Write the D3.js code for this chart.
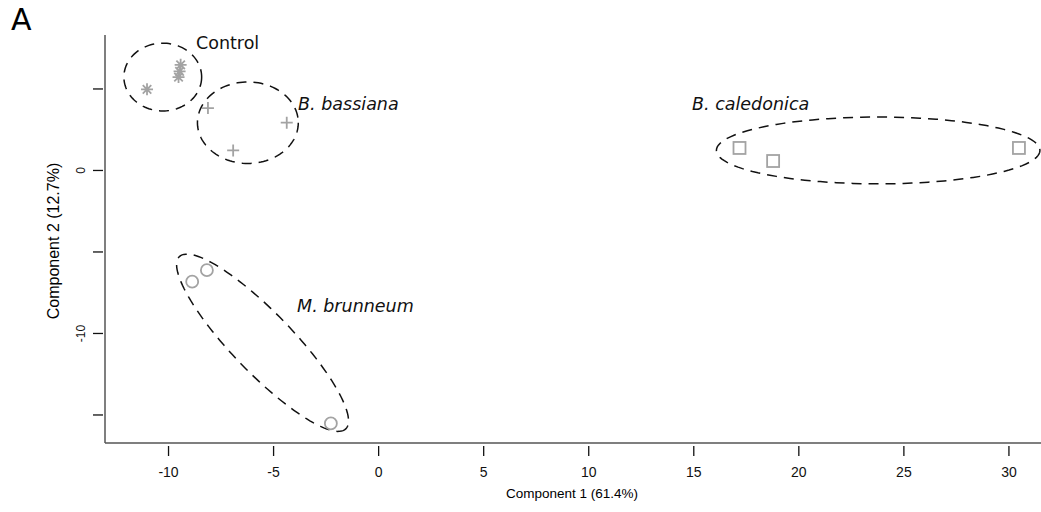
<!DOCTYPE html>
<html>
<head>
<meta charset="utf-8">
<script src="https://cdn.jsdelivr.net/npm/d3@7"></script>
<style>
  body { margin: 0; background: #fff; }
  svg { display: block; }
</style>
</head>
<body>
<svg id="chart"></svg>
<script>
// data (component 1, component 2)
const control = [[-11.0, 4.95], [-9.4, 6.45], [-9.45, 6.05], [-9.5, 5.7]];
const bassiana = [[-8.1, 3.8], [-6.9, 1.2], [-4.35, 2.9]];
const caledonica = [[17.2, 1.35], [18.8, 0.55], [30.5, 1.35]];
const brunneum = [[-8.85, -6.85], [-8.15, -6.15], [-2.25, -15.55]];

// group ellipses: centre x, centre y, half width (x units), half height (y units), angle
const ellipses = [
  { name: 'Control', cx: -10.25, cy: 5.7, rx: 1.85, ry: 2.08, angle: 0 },
  { name: 'B. bassiana', cx: -6.2, cy: 2.9, rx: 2.4, ry: 2.5, angle: 0 },
  { name: 'B. caledonica', cx: 23.8, cy: 1.2, rx: 7.7, ry: 2.05, angle: 0 },
  { name: 'M. brunneum', cx: -5.5, cy: -10.6, rx: 5.7, ry: 1.85, angle: 46 }
];

// label anchors (data units)
const labels = [
  { text: 'Control', x: -8.67, y: 7.42, italic: false },
  { text: 'B. bassiana', x: -3.81, y: 3.68, italic: true },
  { text: 'B. caledonica', x: 14.94, y: 3.68, italic: true },
  { text: 'M. brunneum', x: -3.86, y: -8.71, italic: true }
];

const xTicks = [-10, -5, 0, 5, 10, 15, 20, 25, 30];
const yTicks = [-15, -10, -5, 0, 5];
const yTickLabels = { '0': '0', '-10': '-10' };

const width = 1041;
const height = 512;
const margin = { left: 105, right: 0, top: 35, bottom: 69 };

const svg = d3.select('#chart')
  .attr('width', width)
  .attr('height', height);

const x = d3.scaleLinear().domain([-13, 31.55]).range([margin.left, width - margin.right]);
const y = d3.scaleLinear().domain([-16.75, 8.28]).range([height - margin.bottom, margin.top]);

const axisColor = '#555';
const pointColor = '#a3a3a3';
const axisFont = 'Liberation Sans, Arial, sans-serif';

// panel letter
svg.append('text')
  .attr('x', 11).attr('y', 30)
  .attr('font-family', 'DejaVu Sans, sans-serif')
  .attr('font-size', '30px')
  .text('A');

// axis lines (L shape)
svg.append('line')
  .attr('x1', x.range()[0]).attr('x2', x.range()[1])
  .attr('y1', y.range()[0]).attr('y2', y.range()[0])
  .attr('stroke', axisColor).attr('stroke-width', 1.5);
svg.append('line')
  .attr('x1', x.range()[0]).attr('x2', x.range()[0])
  .attr('y1', y.range()[0]).attr('y2', y.range()[1])
  .attr('stroke', axisColor).attr('stroke-width', 1.5);

// x axis
const xAxis = svg.append('g')
  .attr('transform', `translate(0,${y.range()[0] + 3})`)
  .call(d3.axisBottom(x).tickValues(xTicks).tickSize(10).tickFormat(d => d));
xAxis.select('.domain').remove();
xAxis.selectAll('line').attr('stroke', '#111').attr('stroke-width', 1.3);
xAxis.selectAll('text')
  .attr('y', 31).attr('dy', 0)
  .attr('font-family', axisFont)
  .attr('font-size', '14px')
  .attr('fill', '#111');

// y axis
const yAxis = svg.append('g')
  .attr('transform', `translate(${x.range()[0] - 2},0)`)
  .call(d3.axisLeft(y).tickValues(yTicks).tickSize(10).tickPadding(0)
    .tickFormat(d => yTickLabels[String(d)] || ''));
yAxis.select('.domain').remove();
yAxis.selectAll('line').attr('stroke', '#111').attr('stroke-width', 1.3);
yAxis.selectAll('text')
  .attr('font-family', axisFont)
  .attr('font-size', '12px')
  .attr('fill', '#111')
  .attr('text-anchor', 'middle')
  .attr('x', 0).attr('dy', 0)
  .attr('transform', 'translate(-18,0) rotate(-90)');

// axis titles
svg.append('text')
  .attr('x', 572)
  .attr('y', 498)
  .attr('text-anchor', 'middle')
  .attr('font-family', axisFont)
  .attr('font-size', '13.5px')
  .text('Component 1 (61.4%)');

svg.append('text')
  .attr('transform', 'translate(59,241) rotate(-90)')
  .attr('text-anchor', 'middle')
  .attr('font-family', axisFont)
  .attr('font-size', '16px')
  .text('Component 2 (12.7%)');

// dashed ellipses, rotation applied in screen space
const ellipsePath = e => {
  const cx = x(e.cx), cy = y(e.cy);
  const a = Math.abs(x(e.cx + e.rx) - x(e.cx));
  const b = Math.abs(y(e.cy + e.ry) - y(e.cy));
  const t = e.angle * Math.PI / 180;
  const pts = d3.range(0, 361, 3).map(deg => {
    const u = deg * Math.PI / 180;
    const px = a * Math.cos(u), py = b * Math.sin(u);
    return [cx + px * Math.cos(t) - py * Math.sin(t), cy + px * Math.sin(t) + py * Math.cos(t)];
  });
  return d3.line()(pts) + 'Z';
};

svg.append('g').selectAll('path')
  .data(ellipses)
  .enter().append('path')
  .attr('d', ellipsePath)
  .attr('fill', 'none')
  .attr('stroke', '#111')
  .attr('stroke-width', 1.5)
  .attr('stroke-dasharray', '10,7');

// markers
const sz = 6;
const pts = svg.append('g').attr('stroke', pointColor).attr('fill', 'none').attr('stroke-width', 1.8);

// asterisks
pts.selectAll('.ast')
  .data(control)
  .enter().append('path')
  .attr('class', 'ast')
  .attr('d', d => {
    const px = x(d[0]), py = y(d[1]);
    const r = sz, k = sz * 0.71;
    return `M${px - r},${py}H${px + r}M${px - k},${py - k}L${px + k},${py + k}M${px - k},${py + k}L${px + k},${py - k}M${px},${py - r}V${py + r}`;
  });

// plus
pts.selectAll('.plus')
  .data(bassiana)
  .enter().append('path')
  .attr('class', 'plus')
  .attr('d', d => {
    const px = x(d[0]), py = y(d[1]);
    return `M${px - sz},${py}H${px + sz}M${px},${py - sz}V${py + sz}`;
  });

// squares
pts.selectAll('.sq')
  .data(caledonica)
  .enter().append('rect')
  .attr('class', 'sq')
  .attr('x', d => x(d[0]) - 6)
  .attr('y', d => y(d[1]) - 6)
  .attr('width', 12).attr('height', 12);

// circles
pts.selectAll('.circ')
  .data(brunneum)
  .enter().append('circle')
  .attr('class', 'circ')
  .attr('cx', d => x(d[0]))
  .attr('cy', d => y(d[1]))
  .attr('r', 6);

// group labels
svg.append('g').selectAll('text')
  .data(labels)
  .enter().append('text')
  .attr('x', d => x(d.x))
  .attr('y', d => y(d.y))
  .attr('font-family', 'DejaVu Sans, Verdana, sans-serif')
  .attr('font-size', '17.5px')
  .attr('font-style', d => d.italic ? 'italic' : 'normal')
  .attr('fill', '#111')
  .text(d => d.text);
</script>
</body>
</html>
